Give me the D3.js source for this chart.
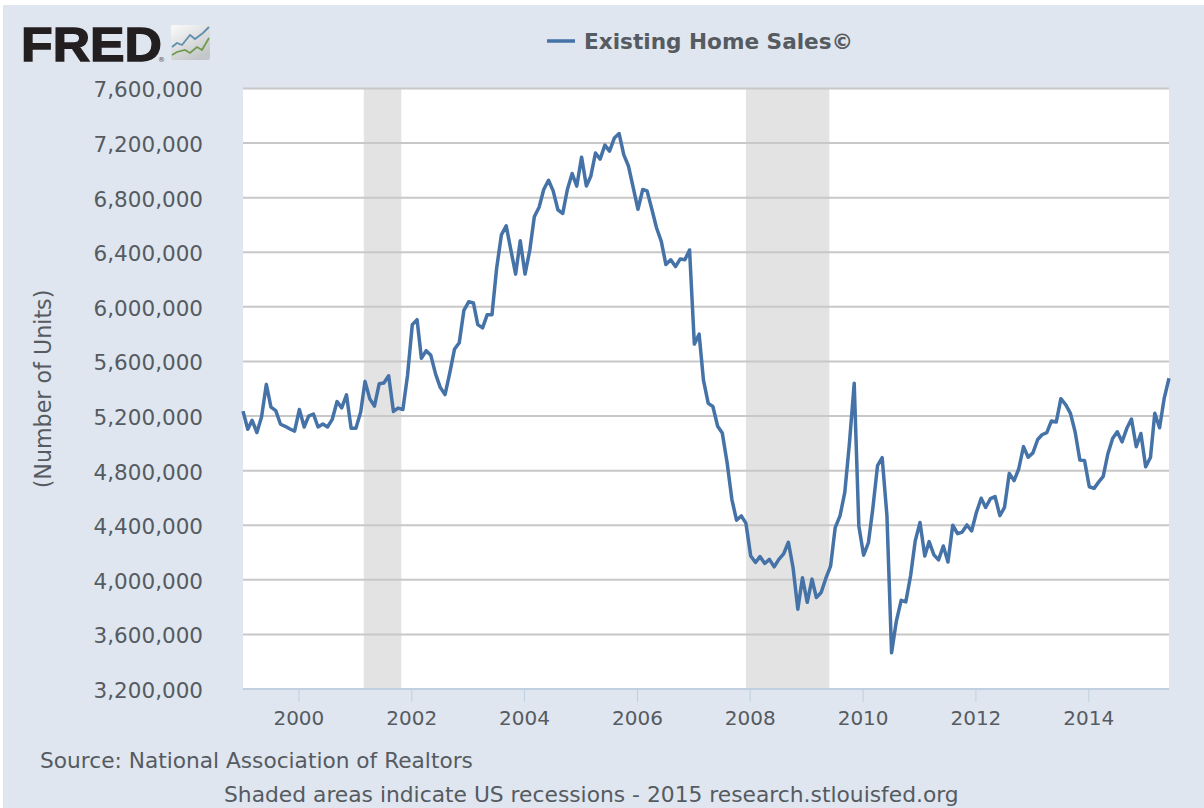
<!DOCTYPE html>
<html><head><meta charset="utf-8">
<script src="https://cdnjs.cloudflare.com/ajax/libs/d3/7.8.5/d3.min.js"></script>
<style>html,body{margin:0;padding:0;background:#fff;overflow:hidden}svg{display:block}text{font-family:"DejaVu Sans",sans-serif}</style>
</head><body><svg id="c" width="1204" height="808"></svg>
<script>
const sales = [
5236,5103,5169,5079,5193,5432,5265,5240,5140,5125,5105,5090,
5248,5120,5200,5215,5120,5142,5120,5176,5306,5260,5355,5110,
5110,5229,5454,5326,5273,5437,5442,5495,5234,5258,5248,5495,
5870,5906,5623,5679,5645,5507,5410,5357,5519,5689,5737,5974,
6037,6028,5870,5846,5943,5943,6283,6528,6594,6418,6240,6485,
6240,6418,6660,6730,6860,6928,6850,6710,6684,6860,6977,6885,
7097,6885,6955,7127,7083,7185,7141,7237,7270,7115,7030,6875,
6715,6860,6850,6715,6580,6480,6310,6345,6295,6350,6345,6417,
5727,5800,5463,5293,5270,5125,5075,4860,4590,4437,4468,4415,
4175,4127,4170,4120,4150,4095,4150,4190,4275,4090,3785,4015,
3835,4005,3870,3907,4010,4100,4383,4468,4640,5000,5440,4395,
4180,4273,4517,4837,4895,4468,3465,3698,3850,3838,4030,4285,
4420,4175,4280,4183,4146,4248,4130,4400,4338,4350,4402,4358,
4493,4598,4530,4595,4610,4470,4530,4780,4727,4812,4976,4898,
4930,5028,5063,5078,5164,5156,5327,5283,5220,5085,4877,4875,
4682,4670,4714,4758,4922,5035,5085,5011,5110,5178,4975,5072,
4828,4896,5220,5114,5330,5477];
const yTicks = [3200,3600,4000,4400,4800,5200,5600,6000,6400,6800,7200,7600];
const xTickYears = [2000,2002,2004,2006,2008,2010,2012,2014];
const recessions = [["2001-02-21","2001-10-22"],["2007-12-01","2009-05-24"]];
const seriesName = "Existing Home Sales\u00a9";
const yTitle = "(Number of Units)";
const sourceText = "Source: National Association of Realtors";
const noteText = "Shaded areas indicate US recessions - 2015 research.stlouisfed.org";
const iconBlue = [[0,20],[5,16],[10,18],[18,8],[23,12],[31,6],[37,0]];
const iconGreen = [[0,28],[5,25],[13,23],[18,26],[25,20],[30,23],[37,11]];

const W=1204,H=808,L=243,R=1169,T=88.5,B=689;
const svg=d3.select("#c");
const months=sales.map((_,i)=>new Date(Date.UTC(1999,i,1)));
const x=d3.scaleUtc().domain([months[0],months[months.length-1]]).range([L,R]);
const y=d3.scaleLinear().domain([3200,7600]).range([B,T]);
const textCol="#555b61";

svg.append("rect").attr("x",3).attr("y",5).attr("width",W-3).attr("height",H-5).attr("fill","#dfe6ef");
svg.append("rect").attr("x",L).attr("y",T).attr("width",R-L).attr("height",B-T).attr("fill","#fff");

svg.selectAll(".rec").data(recessions).join("rect").attr("class","rec")
 .attr("x",d=>x(new Date(d[0]))).attr("width",d=>x(new Date(d[1]))-x(new Date(d[0])))
 .attr("y",T).attr("height",B-T).attr("fill","#e3e3e3");

// grid + y labels
const yAxis=d3.axisLeft(y).tickValues(yTicks).tickSize(0).tickPadding(40)
 .tickFormat(d=>d3.format(",")(d*1000));
const gy=svg.append("g").attr("transform",`translate(${L},1.5)`).call(yAxis);
gy.select(".domain").remove();
gy.selectAll("text").attr("font-size",21.5).attr("fill",textCol).attr("font-family",'"DejaVu Sans"');
svg.append("g").selectAll("line").data(yTicks.filter(d=>d!==3200)).join("line")
 .attr("x1",L).attr("x2",R).attr("y1",d=>y(d)).attr("y2",d=>y(d))
 .attr("stroke","#c8c8c8").attr("stroke-width",2);

// x axis
const xAxis=d3.axisBottom(x).tickValues(xTickYears.map(v=>new Date(Date.UTC(v,0,1))))
 .tickFormat(d3.utcFormat("%Y")).tickSize(13).tickPadding(9);
const gx=svg.append("g").attr("transform",`translate(-1,${B})`).call(xAxis);
gx.select(".domain").attr("stroke","#c0d0e0").attr("stroke-width",2).attr("d",`M${L+1},0H${R+1}`);
gx.selectAll("line").attr("stroke","#c0d0e0");
gx.selectAll("text").attr("font-size",20).attr("fill",textCol).attr("font-family",'"DejaVu Sans"');

// line
svg.append("path").datum(sales)
 .attr("d",d3.line().x((d,i)=>x(months[i])).y(d=>y(d)))
 .attr("fill","none").attr("stroke","#4572a7").attr("stroke-width",3.5).attr("stroke-linejoin","round");

// y title
svg.append("text").attr("transform","translate(51,389) rotate(-90)").attr("text-anchor","middle")
 .attr("font-size",22.2).attr("fill",textCol).text(yTitle);

// legend
svg.append("line").attr("x1",547).attr("x2",575).attr("y1",41).attr("y2",41).attr("stroke","#4572a7").attr("stroke-width",3.5);
svg.append("text").attr("x",584).attr("y",48.5).attr("font-size",21.6).attr("font-weight","bold").attr("fill",textCol).text(seriesName);

// footer
svg.append("text").attr("x",40).attr("y",768).attr("font-size",21.7).attr("fill",textCol).text(sourceText);
svg.append("text").attr("x",224).attr("y",802).attr("font-size",21.8).attr("fill",textCol).text(noteText);

// logo
svg.append("text").attr("x",21).attr("y",60.5).attr("font-size",49).attr("font-weight","bold")
 .attr("textLength",141).attr("lengthAdjust","spacingAndGlyphs")
 .attr("fill","#231f20").attr("stroke","#231f20").attr("stroke-width",1.4)
 .style("font-family","'Liberation Sans'").text("FRED");
svg.append("text").attr("x",158).attr("y",62).attr("font-size",7).attr("fill","#555").text("\u00ae");
const defs=svg.append("defs");
const g=defs.append("linearGradient").attr("id","ic").attr("x1",0).attr("y1",0).attr("x2",0.6).attr("y2",1);
g.append("stop").attr("offset","0%").attr("stop-color","#fbfbfb");
g.append("stop").attr("offset","100%").attr("stop-color","#c4c7c9");
svg.append("rect").attr("x",171).attr("y",25).attr("width",39).attr("height",35).attr("rx",2).attr("fill","url(#ic)");
const iconLine=d3.line().x(d=>172+d[0]).y(d=>27+d[1]);
svg.append("path").attr("d",iconLine(iconBlue)).attr("fill","none").attr("stroke","#5f8fae").attr("stroke-width",1.8);
svg.append("path").attr("d",iconLine(iconGreen)).attr("fill","none").attr("stroke","#6f9a4b").attr("stroke-width",1.8);
</script></body></html>
